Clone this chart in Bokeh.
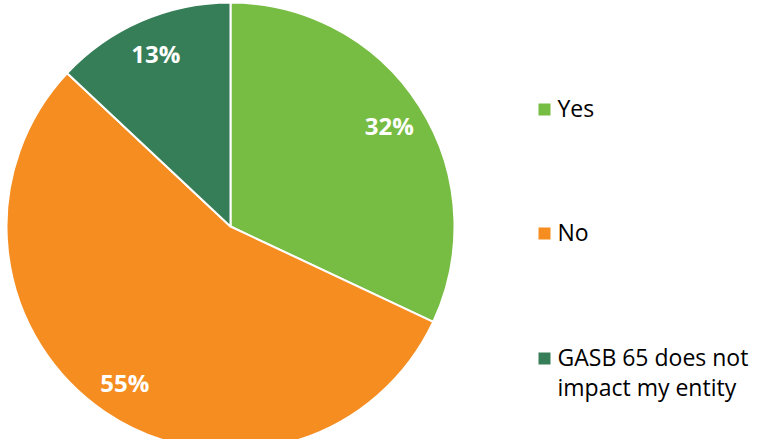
import numpy as np
from bokeh.plotting import figure
from bokeh.models import Range1d, ColumnDataSource
from bokeh.core.properties import value
from bokeh.embed import file_html
from bokeh.resources import INLINE

# ---- data ----
categories = ["Yes", "No", "GASB 65 does not\nimpact my entity"]
percents = [32, 55, 13]
colors = ["#77BC43", "#F58D21", "#367E57"]
pct_labels = ["32%", "55%", "13%"]

W, H = 752, 439
p = figure(width=W, height=H, output_backend="svg", toolbar_location=None,
           x_range=Range1d(0, W), y_range=Range1d(0, H),
           x_axis_location=None, y_axis_location=None, min_border=0)
p.grid.visible = False
p.outline_line_color = None
p.background_fill_color = "white"

def sx(x):
    return x

def sy(y):
    return H - y

cx, cy, R = sx(230), sy(226), 224
vals = np.array(percents, dtype=float)
frac = vals / vals.sum()
cum = np.concatenate([[0], np.cumsum(frac)])
start = np.pi / 2 - cum[:-1] * 2 * np.pi
end = np.pi / 2 - cum[1:] * 2 * np.pi
mid = (start + end) / 2

src = ColumnDataSource(dict(start=start, end=end, color=colors))
p.wedge(x=cx, y=cy, radius=R, start_angle="start", end_angle="end",
        direction="clock", fill_color="color", line_color="white",
        line_width=2, source=src)

lr = 0.84 * R
lsrc = ColumnDataSource(dict(x=cx + lr * np.cos(mid), y=cy + lr * np.sin(mid),
                             t=pct_labels))
p.text(x="x", y="y", text="t", source=lsrc, text_color="white",
       text_font=value("Open Sans"), text_font_style="bold",
       text_font_size="24px", text_align="center", text_baseline="middle")

# legend
leg_y = [sy(109), sy(233), sy(358)]
p.scatter(x=[sx(544)] * 3, y=leg_y, marker="square", size=12,
          fill_color=colors, line_color=None)
p.text(x=[sx(557)] * 3, y=[v + 18 for v in leg_y], text=categories,
       text_color="#000000", text_font=value("Open Sans"),
       text_font_size="23px", text_align="left", text_baseline="top",
       text_line_height=0.95)

open("out.html", "w").write(file_html(p, INLINE))
